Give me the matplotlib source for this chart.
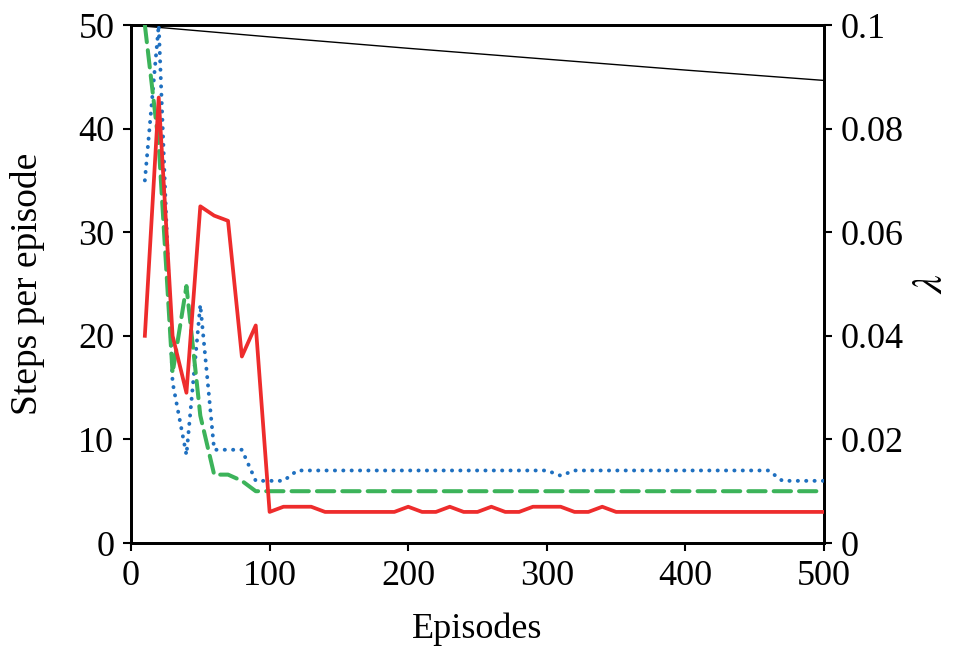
import matplotlib
matplotlib.use("Agg")
import matplotlib.pyplot as plt

plt.rcParams['font.family'] = ['Liberation Serif', 'DejaVu Serif']
plt.rcParams['mathtext.fontset'] = 'stix'

episodes = list(range(10, 510, 10))

red_steps = [20, 43, 20, 14.5, 32.5, 31.6, 31.1, 18, 21, 3,
             3.5, 3.5, 3.5, 3, 3, 3, 3, 3, 3, 3.5,
             3, 3, 3.5, 3, 3, 3.5, 3, 3, 3.5, 3.5,
             3.5, 3, 3, 3.5, 3, 3, 3, 3, 3, 3,
             3, 3, 3, 3, 3, 3, 3, 3, 3, 3]

blue_steps = [35, 50, 15.5, 8.5, 23, 9, 9, 9, 6, 6,
              6, 7, 7, 7, 7, 7, 7, 7, 7, 7,
              7, 7, 7, 7, 7, 7, 7, 7, 7, 7,
              6.5, 7, 7, 7, 7, 7, 7, 7, 7, 7,
              7, 7, 7, 7, 7, 7, 6, 6, 6, 6]

green_steps = [50, 38.5, 16.4, 24.8, 12.3, 6.6, 6.6, 6, 5, 5,
               5, 5, 5, 5, 5, 5, 5, 5, 5, 5,
               5, 5, 5, 5, 5, 5, 5, 5, 5, 5,
               5, 5, 5, 5, 5, 5, 5, 5, 5, 5,
               5, 5, 5, 5, 5, 5, 5, 5, 5, 5]

lambda_episodes = [0, 100, 200, 300, 400, 500]
lambda_values = [0.1, 0.0977, 0.0955, 0.0934, 0.0913, 0.0893]

x_ticks = [0, 100, 200, 300, 400, 500]
y_ticks = [0, 10, 20, 30, 40, 50]
y2_ticks = [0, 0.02, 0.04, 0.06, 0.08, 0.1]
y2_labels = ['0', '0.02', '0.04', '0.06', '0.08', '0.1']

fig = plt.figure(figsize=(9.54, 6.52), dpi=100)
ax = fig.add_axes([131/954, 1-543/652, (824-131)/954, (543-25)/652])
ax2 = ax.twinx()

ax2.plot(lambda_episodes, lambda_values, color='black', lw=1.0, zorder=1)

ax.plot(episodes, blue_steps, color='#1f70c0', lw=2.8,
        linestyle=(0, (0.05, 2.1)), dash_capstyle='round', zorder=3)
ax.plot(episodes, green_steps, color='#3cb35a', lw=2.9,
        linestyle=(0, (4.3, 2.0)), dash_capstyle='round', zorder=3)
ax.plot(episodes, red_steps, color='#ee2c2c', lw=2.7, zorder=4)

ax.set_zorder(ax2.get_zorder() + 1)
ax.patch.set_visible(False)

ax.set_xlim(0, 500)
ax.set_ylim(0, 50)
ax2.set_ylim(0, 0.1)
ax.set_xticks(x_ticks)
ax.set_yticks(y_ticks)
ax2.set_yticks(y2_ticks)
ax2.set_yticklabels(y2_labels)

fs = 26
for a in (ax, ax2):
    a.tick_params(direction='out', length=6, width=1.5, labelsize=fs, pad=6)
    for s in a.spines.values():
        s.set_linewidth(2.0)

ax.set_xlabel('Episodes', fontsize=fs, labelpad=14)
ax.set_ylabel('Steps per episode', fontsize=27, labelpad=24)
ax2.set_ylabel(r'$\lambda$', fontsize=30, labelpad=6)

fig.savefig('out.png', dpi=100)
